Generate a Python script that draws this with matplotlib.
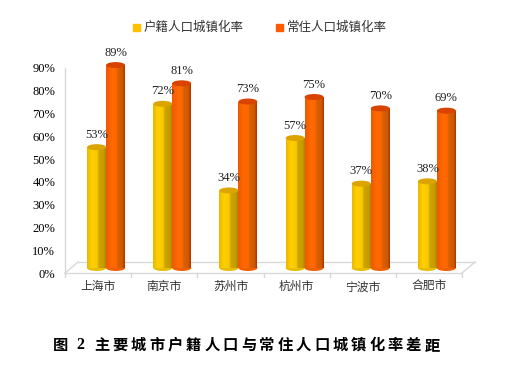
import numpy as np
import matplotlib
matplotlib.use("Agg")
import matplotlib.pyplot as plt
import matplotlib.transforms as mtransforms
from matplotlib.colors import LinearSegmentedColormap
from matplotlib.patches import Ellipse, Rectangle

plt.rcParams['font.family'] = ['Liberation Serif', 'Noto Sans CJK SC', 'DejaVu Sans']

# 数据
cities = ['上海市', '南京市', '苏州市', '杭州市', '宁波市', '合肥市']
huji = [0.53, 0.72, 0.34, 0.57, 0.37, 0.38]      # 户籍人口城镇化率
changzhu = [0.89, 0.81, 0.73, 0.75, 0.70, 0.69]  # 常住人口城镇化率
series_names = ['户籍人口城镇化率', '常住人口城镇化率']
yticks = np.arange(0, 1.0, 0.1)
caption = '主要城市户籍人口与常住人口城镇化率差距'

DPI = 100
fig = plt.figure(figsize=(5.08, 3.73), dpi=DPI)
W, H = 508, 373
# axes: x 0..6 -> px 65..462 (front floor edge), y 0..1 -> 228 px, 0 at y=273
ax = fig.add_axes([65 / W, (H - 273) / H, (462 - 65) / W, 228 / H])
ax.set_xlim(0, 6)
ax.set_ylim(0, 1)
for s in ax.spines.values():
    s.set_visible(False)

# 透视偏移
bar_off = mtransforms.offset_copy(ax.transData, fig, x=8, y=5, units='dots')
back_off = mtransforms.offset_copy(ax.transData, fig, x=13, y=11, units='dots')

# 地板
gc = '#d9d9d9'
ax.plot([0, 6], [0, 0], color=gc, lw=1, clip_on=False, zorder=1)
ax.plot([0, 6], [0, 0], color=gc, lw=1, clip_on=False, zorder=1, transform=back_off)
for xe in [0, 6]:
    p0 = ax.transData.transform((xe, 0))
    p1 = back_off.transform((xe, 0))
    ax.plot([p0[0], p1[0]], [p0[1], p1[1]], color=gc, lw=1, transform=None,
            clip_on=False, zorder=1)
for xe in range(0, 7):
    ax.plot([xe, xe], [0, -0.018], color=gc, lw=1, clip_on=False, zorder=1)
# y 轴线
ax.plot([0, 0], [0, 0.9], color=gc, lw=1, clip_on=False, zorder=1)

ax.set_yticks(yticks)
ax.set_yticklabels(['%d%%' % round(v * 100) for v in yticks], fontsize=9)
ax.tick_params(axis='y', length=0, pad=7)
x = np.arange(len(cities)) + 0.5
ax.set_xticks(x)
ax.set_xticklabels(cities, fontsize=8.5, color='#333333')
ax.tick_params(axis='x', length=0, pad=6)

bw = 19 / 66.2
cm_y = LinearSegmentedColormap.from_list('y', [(0, '#eab800'), (0.25, '#ffd000'),
                                               (0.55, '#f8c800'), (0.62, '#cfa500'),
                                               (0.9, '#c49c00'), (1, '#a88400')])
cm_o = LinearSegmentedColormap.from_list('o', [(0, '#f05800'), (0.3, '#ff6a00'),
                                               (0.55, '#ff6600'), (0.62, '#d96000'),
                                               (0.88, '#cc5a00'), (1, '#b03000')])
grad = np.linspace(0, 1, 64).reshape(1, -1)
ell_h = 6 / 228

for vals, dx, cmap, cap, base in [(huji, -bw / 2, cm_y, '#dca400', '#e8bc00'),
                                  (changzhu, bw / 2, cm_o, '#d84400', '#f06000')]:
    bars = ax.bar(x + dx, vals, width=bw, transform=bar_off, color='none',
                  edgecolor='none', zorder=3)
    for rect, v in zip(bars, vals):
        x0 = rect.get_x()
        xc = x0 + bw / 2
        be = Ellipse((xc, 0), bw, ell_h, transform=bar_off, facecolor=base,
                     edgecolor='none', zorder=2)
        ax.add_patch(be)
        im = ax.imshow(grad, extent=[x0, x0 + bw, 0, v], transform=bar_off,
                       aspect='auto', cmap=cmap, zorder=3, interpolation='bilinear')
        im.set_clip_path(rect)
        te = Ellipse((xc, v), bw, ell_h, transform=bar_off, facecolor=cap,
                     edgecolor='none', zorder=4)
        ax.add_patch(te)
        ax.annotate('%d%%' % round(v * 100), (xc, v), xycoords=bar_off,
                    xytext=(0, 9), textcoords='offset points', ha='center',
                    va='center', fontsize=9, color='#222222', zorder=5)

ax.set_xlim(0, 6)
ax.set_ylim(0, 1)

# 图例
for sx, name, col in [(133, series_names[0], '#ffc000'), (276, series_names[1], '#ff5a00')]:
    fig.patches.append(Rectangle((sx / W, (H - 31) / H), 7 / W, 7 / H, color=col,
                                 transform=fig.transFigure, figure=fig))
    fig.text((sx + 11) / W, (H - 27) / H, name, fontsize=9, va='center',
             ha='left', color='#333333', family=['Noto Sans CJK SC'])

# 标题
fig.text(60 / W, (H - 345) / H, '图', fontsize=11, fontweight='bold', ha='center',
         va='center', family=['Noto Sans CJK SC'])
fig.text(80 / W, (H - 345) / H, '2', fontsize=11.5, fontweight='bold', ha='center',
         va='center', family=['Liberation Serif'])
for i, ch in enumerate(caption):
    fig.text((102 + i * 18.33) / W, (H - 345) / H, ch, fontsize=11, fontweight='bold',
             ha='center', va='center', family=['Noto Sans CJK SC'])

fig.savefig('out.png', dpi=DPI)
